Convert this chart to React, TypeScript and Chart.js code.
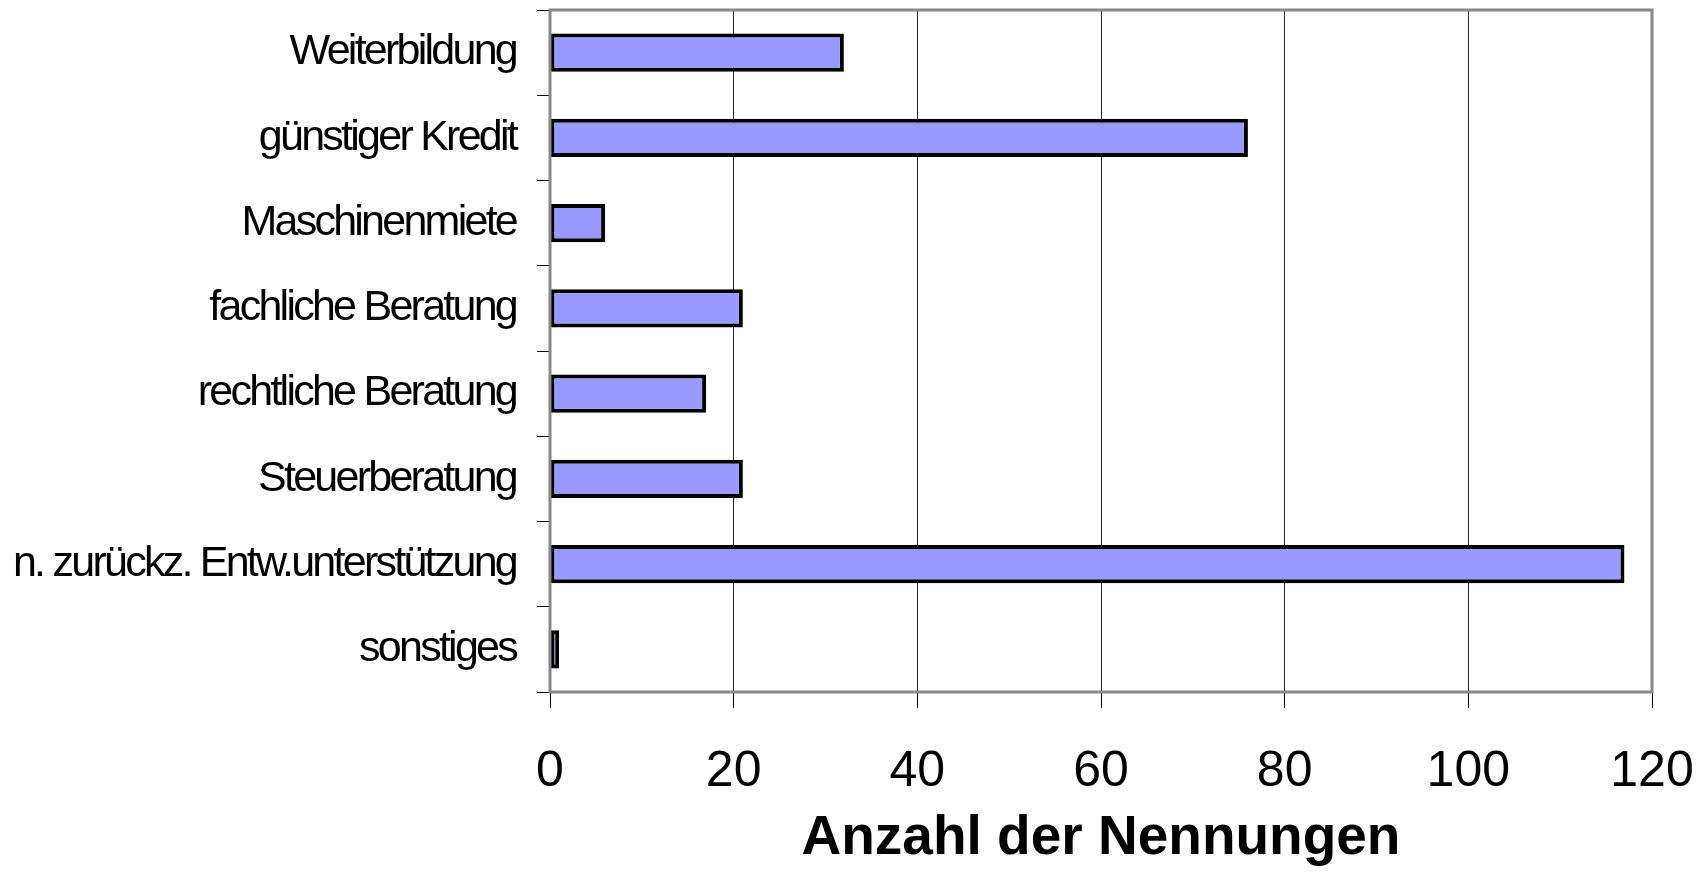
import React, { useEffect, useRef } from "react";
import { Chart, registerables } from "chart.js";

Chart.register(...registerables);

const categories = [
  "Weiterbildung",
  "günstiger Kredit",
  "Maschinenmiete",
  "fachliche Beratung",
  "rechtliche Beratung",
  "Steuerberatung",
  "n. zurückz. Entw.unterstützung",
  "sonstiges",
];
const values = [32, 76, 6, 21, 17, 21, 117, 1];
const xTicks = [0, 20, 40, 60, 80, 100, 120];
const axisTitle = "Anzahl der Nennungen";

const frame = {
  id: "frame",
  afterDraw(chart: any) {
    const { ctx, chartArea } = chart;
    ctx.save();
    ctx.strokeStyle = "#888888";
    ctx.lineWidth = 3;
    ctx.strokeRect(chartArea.left, chartArea.top, chartArea.right - chartArea.left, chartArea.bottom - chartArea.top);
    ctx.restore();
  },
};

const zeroPad = (s: any) => {
  s.paddingTop = 0;
  s.paddingBottom = 0;
  s.paddingLeft = 0;
  s.paddingRight = 0;
};

export default function App() {
  const ref = useRef<HTMLCanvasElement>(null);
  useEffect(() => {
    document.body.style.margin = "0";
    const chart = new Chart(ref.current!, {
      type: "bar",
      data: {
        labels: categories,
        datasets: [
          {
            data: values,
            backgroundColor: "#9999FF",
            borderColor: "#000000",
            borderWidth: 4,
            borderSkipped: false,
            barPercentage: 0.45,
            categoryPercentage: 1,
          },
        ],
      },
      options: {
        indexAxis: "y",
        animation: false,
        responsive: false,
        maintainAspectRatio: false,
        layout: { padding: { top: 10, right: 51, left: 0, bottom: 0 } },
        plugins: { legend: { display: false }, tooltip: { enabled: false } },
        scales: {
          x: {
            type: "linear",
            min: 0,
            max: 120,
            afterBuildTicks: (s: any) => {
              s.ticks = xTicks.map((v) => ({ value: v }));
            },
            afterFit: (s: any) => {
              s.height = 200;
              zeroPad(s);
            },
            grid: {
              color: "#222222",
              lineWidth: 1,
              drawTicks: true,
              tickLength: 16,
              tickColor: "#000000",
            },
            border: { display: false },
            ticks: {
              color: "#000000",
              font: { family: "Liberation Sans, Arial, sans-serif", size: 50 },
              padding: 34,
            },
            title: {
              display: true,
              text: axisTitle,
              color: "#000000",
              font: { family: "Liberation Sans, Arial, sans-serif", size: 55, weight: "bold", lineHeight: 1 },
              padding: { top: 0, bottom: 26 },
            },
          },
          y: {
            afterFit: (s: any) => {
              s.width = 550;
              zeroPad(s);
            },
            afterUpdate: (s: any) => {
              if (!s._lsPatched) {
                const orig = s.drawLabels.bind(s);
                s.drawLabels = (area: any) => {
                  const c = s.ctx;
                  c.save();
                  c.letterSpacing = "-2.75px";
                  orig(area);
                  c.restore();
                };
                s._lsPatched = true;
              }
            },
            grid: {
              offset: true,
              drawOnChartArea: false,
              drawTicks: true,
              tickLength: 13,
              tickColor: "#000000",
            },
            border: { display: false },
            ticks: {
              color: "#000000",
              font: { family: "Liberation Sans, Arial, sans-serif", size: 43 },
              padding: 21,
              autoSkip: false,
            },
          },
        },
      },
      plugins: [frame],
    });
    return () => chart.destroy();
  }, []);
  return (
    <div style={{ position: "absolute", left: 0, top: 0, width: 1703, height: 892 }}>
      <canvas ref={ref} width={1703} height={892} />
    </div>
  );
}
